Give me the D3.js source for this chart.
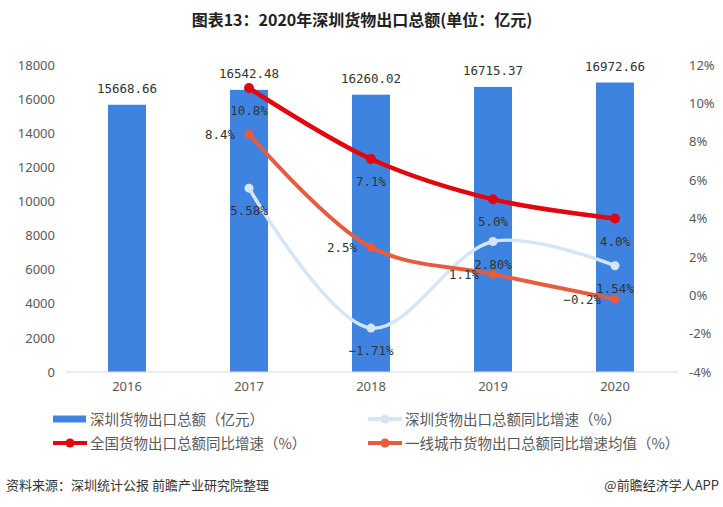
<!DOCTYPE html>
<html lang="zh">
<head>
  <meta charset="UTF-8">
  <title>深圳货物出口总额</title>
  <script src="https://d3js.org/d3.v7.min.js"></script>
  <style>
    body { margin: 0; background: #fff; }
    text { font-family: "Noto Sans CJK SC", "Noto Sans", sans-serif; }
  </style>
</head>
<body>
<svg width="723" height="507"></svg>
<script>
  // 数据
  var years = ["2016", "2017", "2018", "2019", "2020"];
  var exportTotal = [15668.66, 16542.48, 16260.02, 16715.37, 16972.66];   // 深圳货物出口总额（亿元）
  var szGrowth = [null, 5.58, -1.71, 2.80, 1.54];                          // 深圳同比增速
  var cnGrowth = [null, 10.8, 7.1, 5.0, 4.0];                              // 全国同比增速
  var tier1Growth = [null, 8.4, 2.5, 1.1, -0.2];                           // 一线城市均值
  var leftTicks = [0, 2000, 4000, 6000, 8000, 10000, 12000, 14000, 16000, 18000];
  var rightTicks = [-4, -2, 0, 2, 4, 6, 8, 10, 12];

  var svg = d3.select("svg");

  var x = d3.scaleBand().domain(years).range([66, 676]);
  var y0 = d3.scaleLinear().domain([0, 18000]).range([372, 65]);
  var y1 = d3.scaleLinear().domain([-4, 12]).range([372, 65]);
  var cx = function (i) { return x(years[i]) + x.bandwidth() / 2; };
  var barW = 38;

  // 标题
  svg.append("text")
    .attr("x", 362).attr("y", 26)
    .attr("text-anchor", "middle")
    .attr("font-size", 16).attr("font-weight", "bold")
    .attr("fill", "#222")
    .text("图表13：2020年深圳货物出口总额(单位：亿元)");

  // 左轴
  var gl = svg.append("g").attr("transform", "translate(55,0)")
    .call(d3.axisLeft(y0).tickValues(leftTicks).tickSize(0).tickPadding(0).tickFormat(d3.format("d")));
  gl.select(".domain").remove();
  gl.selectAll("text").attr("font-size", 13).attr("fill", "#595959")
    .style("font-family", "'Noto Sans', sans-serif");

  // 右轴
  var gr = svg.append("g").attr("transform", "translate(689,0)")
    .call(d3.axisRight(y1).tickValues(rightTicks).tickSize(0).tickPadding(0).tickFormat(function (d) { return d + "%"; }));
  gr.select(".domain").remove();
  gr.selectAll("text").attr("font-size", 13).attr("fill", "#595959")
    .style("font-family", "'Noto Sans', sans-serif");

  // 柱子
  svg.append("g").selectAll("rect")
    .data(exportTotal)
    .enter().append("rect")
    .attr("x", function (d, i) { return cx(i) - barW / 2; })
    .attr("y", function (d) { return y0(d); })
    .attr("width", barW)
    .attr("height", function (d) { return y0(0) - y0(d); })
    .attr("fill", "#3f83e0");

  // x轴
  var gx = svg.append("g").attr("transform", "translate(0,372)")
    .call(d3.axisBottom(x).tickSize(0).tickPadding(10));
  gx.select(".domain").attr("stroke", "#d9d9d9").attr("d", "M66,0H678");
  gx.selectAll("text").attr("font-size", 13).attr("fill", "#595959")
    .style("font-family", "'Noto Sans', sans-serif");

  // 折线
  var series = [
    { values: szGrowth, color: "#d5e5f5", width: 3.5, r: 4.5, pos: "below" },
    { values: tier1Growth, color: "#e65c3e", width: 4, r: 4.5, pos: "left" },
    { values: cnGrowth, color: "#e0070f", width: 4.5, r: 5, pos: "below" }
  ];

  var line = d3.line()
    .defined(function (d) { return d != null; })
    .x(function (d, i) { return cx(i); })
    .y(function (d) { return y1(d); })
    .curve(d3.curveCatmullRom.alpha(0.5));

  series.forEach(function (s) {
    svg.append("path")
      .attr("d", line(s.values))
      .attr("fill", "none")
      .attr("stroke", s.color)
      .attr("stroke-width", s.width)
      .attr("stroke-linecap", "round");
    svg.append("g").selectAll("circle")
      .data(s.values.map(function (v, i) { return { v: v, i: i }; }).filter(function (d) { return d.v != null; }))
      .enter().append("circle")
      .attr("cx", function (d) { return cx(d.i); })
      .attr("cy", function (d) { return y1(d.v); })
      .attr("r", s.r)
      .attr("fill", s.color);
  });

  // 数据标签
  var labelFont = "'DejaVu Sans Mono', monospace";
  svg.append("g").selectAll("text")
    .data(exportTotal)
    .enter().append("text")
    .attr("x", function (d, i) { return cx(i); })
    .attr("y", function (d) { return y0(d) - 12; })
    .attr("text-anchor", "middle")
    .attr("font-size", 12.5).attr("fill", "#333")
    .style("font-family", labelFont)
    .text(function (d) { return d.toFixed(2); });

  var fmt = [d3.format(".2f"), d3.format(".1f"), d3.format(".1f")];
  series.forEach(function (s, k) {
    svg.append("g").selectAll("text")
      .data(s.values.map(function (v, i) { return { v: v, i: i }; }).filter(function (d) { return d.v != null; }))
      .enter().append("text")
      .attr("x", function (d) { return s.pos === "left" ? cx(d.i) - 14 : cx(d.i); })
      .attr("y", function (d) { return s.pos === "left" ? y1(d.v) + 5 : y1(d.v) + 27; })
      .attr("text-anchor", s.pos === "left" ? "end" : "middle")
      .attr("font-size", 12.5).attr("fill", "#333")
      .style("font-family", labelFont)
      .text(function (d) { return fmt[k](d.v) + "%"; });
  });

  // 图例
  var legend = [
    { name: "深圳货物出口总额（亿元）", color: "#3f83e0", type: "rect", x: 53, y: 419 },
    { name: "深圳货物出口总额同比增速（%）", color: "#d5e5f5", type: "line", x: 368, y: 419 },
    { name: "全国货物出口总额同比增速（%）", color: "#e0070f", type: "line", x: 53, y: 443 },
    { name: "一线城市货物出口总额同比增速均值（%）", color: "#e65c3e", type: "line", x: 368, y: 443 }
  ];
  var lg = svg.append("g").selectAll("g").data(legend).enter().append("g")
    .attr("transform", function (d) { return "translate(" + d.x + "," + d.y + ")"; });
  lg.each(function (d) {
    var g = d3.select(this);
    if (d.type === "rect") {
      g.append("rect").attr("x", 0).attr("y", -3.5).attr("width", 33).attr("height", 7).attr("fill", d.color);
    } else {
      g.append("line").attr("x1", 0).attr("x2", 34).attr("y1", 0).attr("y2", 0)
        .attr("stroke", d.color).attr("stroke-width", 4);
      g.append("circle").attr("cx", 17).attr("cy", 0).attr("r", 4.5).attr("fill", d.color);
    }
    g.append("text").attr("x", 37).attr("y", 5.5)
      .attr("font-size", 14.5).attr("fill", "#595959")
      .text(d.name);
  });

  // 来源
  svg.append("text")
    .attr("x", 6).attr("y", 490)
    .attr("font-size", 13).attr("fill", "#333")
    .text("资料来源：深圳统计公报 前瞻产业研究院整理");
  svg.append("text")
    .attr("x", 719).attr("y", 490)
    .attr("text-anchor", "end")
    .attr("font-size", 13).attr("fill", "#333")
    .text("@前瞻经济学人APP");
</script>
</body>
</html>
